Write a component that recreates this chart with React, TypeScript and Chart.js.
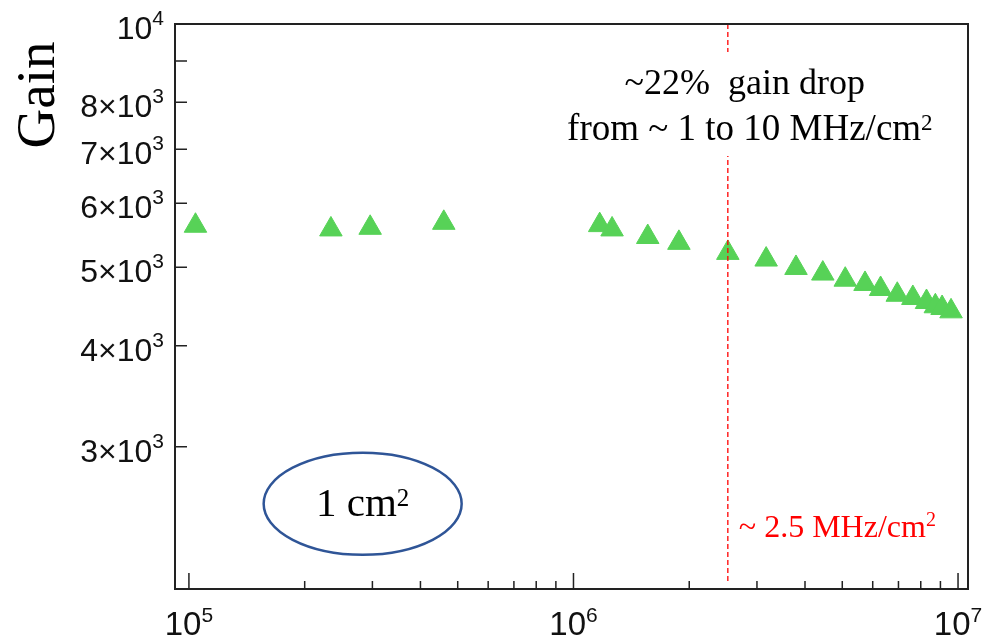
import React, { useEffect, useRef } from 'react';
import { Chart, registerables } from 'chart.js';

Chart.register(...registerables);

// ---- data ----
const frequencies = [
  1.04e5, 2.34e5, 2.96e5, 4.6e5, 1.17e6, 1.26e6, 1.56e6, 1.88e6, 2.52e6, 3.17e6,
  3.79e6, 4.45e6, 5.09e6, 5.73e6, 6.29e6, 6.95e6, 7.63e6, 8.28e6, 8.73e6, 9.09e6, 9.59e6,
];
const gains = [
  5629, 5570, 5596, 5676, 5639, 5570, 5451, 5361, 5210, 5112,
  4991, 4912, 4827, 4769, 4701, 4624, 4582, 4530, 4475, 4453, 4411,
];

const X_MIN = 92000;
const X_MAX = 1.0615e7;
const Y_MIN = 2000;
const Y_MAX = 10000;

const xMajorTicks = [1e5, 1e6, 1e7];
const xMajorLabels = [['10', '5'], ['10', '6'], ['10', '7']];
const xMinorMultipliers = [2, 3, 4, 5, 6, 7, 8, 9];
const xMinorDecades = [1e5, 1e6];

const yTicks = [3000, 4000, 5000, 6000, 7000, 8000, 9000, 10000];
const yTickLabels = [
  ['3×10', '3'], ['4×10', '3'], ['5×10', '3'], ['6×10', '3'],
  ['7×10', '3'], ['8×10', '3'], ['', ''], ['10', '4'],
];

const yTitle = 'Gain';
const markerFreq = 2.52e6;
const markerLabel = ['~ 2.5 MHz/cm', '2'];
const noteLine1 = '~22%  gain drop';
const noteLine2 = ['from ~ 1 to 10 MHz/cm', '2'];
const areaLabel = ['1 cm', '2'];
const areaCenter = { x: 2.83e5, y: 2550 };

const SANS = '"Liberation Sans", Arial, Helvetica, sans-serif';
const SERIF = '"Liberation Serif", "Times New Roman", Times, serif';

function drawSup(
  ctx: CanvasRenderingContext2D,
  base: string,
  sup: string,
  x: number,
  y: number,
  baseFont: string,
  supFont: string,
  raise: number,
  align: 'left' | 'center' | 'right',
) {
  ctx.font = baseFont;
  const bw = ctx.measureText(base).width;
  ctx.font = supFont;
  const sw = ctx.measureText(sup).width;
  const total = bw + sw;
  let start = x;
  if (align === 'center') start = x - total / 2;
  else if (align === 'right') start = x - total;
  ctx.textAlign = 'left';
  ctx.textBaseline = 'alphabetic';
  ctx.font = baseFont;
  ctx.fillText(base, start, y);
  ctx.font = supFont;
  ctx.fillText(sup, start + bw, y - raise);
  return total;
}

const decorPlugin = {
  id: 'decor',
  afterDatasetsDraw(chart: any) {
    const { ctx, chartArea: a, scales } = chart;
    const xs = scales.x;
    const ys = scales.y;
    ctx.save();

    // dashed marker line
    const lx = xs.getPixelForValue(markerFreq);
    ctx.strokeStyle = '#ff0000';
    ctx.lineWidth = 1.3;
    ctx.setLineDash([5, 3]);
    ctx.beginPath();
    ctx.moveTo(lx, a.top);
    ctx.lineTo(lx, a.bottom - 6);
    ctx.stroke();
    ctx.setLineDash([]);

    // annotation text box
    ctx.fillStyle = '#ffffff';
    ctx.fillRect(lx - 176, a.top + 28, 394, 104);
    ctx.fillStyle = '#000000';
    ctx.font = `36px ${SERIF}`;
    ctx.textAlign = 'center';
    ctx.textBaseline = 'alphabetic';
    ctx.fillText(noteLine1, lx + 17, a.top + 70);
    drawSup(ctx, noteLine2[0], noteLine2[1], lx + 22, a.top + 116, `37px ${SERIF}`, `23px ${SERIF}`, 10, 'center');

    // red marker label
    ctx.fillStyle = '#ff0000';
    drawSup(ctx, markerLabel[0], markerLabel[1], lx + 11, a.bottom - 52, `32px ${SERIF}`, `20px ${SERIF}`, 11, 'left');

    // ellipse with area label
    const ex = xs.getPixelForValue(areaCenter.x);
    const ey = ys.getPixelForValue(areaCenter.y);
    ctx.strokeStyle = '#2f5597';
    ctx.lineWidth = 2.5;
    ctx.beginPath();
    ctx.ellipse(ex, ey, 99, 51, 0, 0, Math.PI * 2);
    ctx.stroke();
    ctx.fillStyle = '#000000';
    drawSup(ctx, areaLabel[0], areaLabel[1], ex, ey + 12, `41px ${SERIF}`, `25px ${SERIF}`, 10, 'center');

    // frame
    ctx.strokeStyle = '#222222';
    ctx.lineWidth = 2;
    ctx.strokeRect(a.left, a.top, a.right - a.left, a.bottom - a.top);

    // x ticks
    ctx.lineWidth = 1.5;
    ctx.beginPath();
    xMajorTicks.forEach((v) => {
      const px = xs.getPixelForValue(v);
      ctx.moveTo(px, a.bottom);
      ctx.lineTo(px, a.bottom - 16);
    });
    xMinorDecades.forEach((d) => {
      xMinorMultipliers.forEach((m) => {
        const px = xs.getPixelForValue(d * m);
        ctx.moveTo(px, a.bottom);
        ctx.lineTo(px, a.bottom - 8);
      });
    });
    // y ticks
    yTicks.forEach((v) => {
      const py = ys.getPixelForValue(v);
      ctx.moveTo(a.left, py);
      ctx.lineTo(a.left + 12, py);
    });
    ctx.stroke();

    // x labels
    ctx.fillStyle = '#111111';
    xMajorTicks.forEach((v, i) => {
      const px = xs.getPixelForValue(v);
      drawSup(ctx, xMajorLabels[i][0], xMajorLabels[i][1], px, a.bottom + 46, `33px ${SANS}`, `21px ${SANS}`, 13, 'center');
    });
    // y labels
    yTicks.forEach((v, i) => {
      const [b, s] = yTickLabels[i];
      if (!b) return;
      const py = ys.getPixelForValue(v);
      drawSup(ctx, b, s, a.left - 11, py + 15, `32px ${SANS}`, `21px ${SANS}`, 14, 'right');
    });

    // y title
    ctx.save();
    ctx.translate(54, a.top + 71);
    ctx.rotate(-Math.PI / 2);
    ctx.fillStyle = '#000000';
    ctx.font = `55px ${SERIF}`;
    ctx.textAlign = 'center';
    ctx.textBaseline = 'alphabetic';
    ctx.fillText(yTitle, 0, 0);
    ctx.restore();

    ctx.restore();
  },
};

export default function App() {
  const ref = useRef<HTMLCanvasElement | null>(null);
  useEffect(() => {
    const canvas = ref.current;
    if (!canvas) return;
    const chart = new Chart(canvas, {
      type: 'scatter',
      data: {
        datasets: [
          {
            data: frequencies.map((f, i) => ({ x: f, y: gains[i] })),
            pointStyle: 'triangle',
            pointRadius: 13,
            pointHoverRadius: 13,
            backgroundColor: '#57d257',
            borderColor: '#57d257',
            borderWidth: 1,
            showLine: false,
          },
        ],
      },
      options: {
        animation: false,
        responsive: false,
        devicePixelRatio: 1,
        events: [],
        layout: { padding: { left: 175, right: 11, top: 24, bottom: 50 } },
        plugins: { legend: { display: false }, tooltip: { enabled: false } },
        scales: {
          x: { type: 'logarithmic', min: X_MIN, max: X_MAX, display: false },
          y: { type: 'logarithmic', min: Y_MIN, max: Y_MAX, display: false },
        },
      },
      plugins: [decorPlugin],
    } as any);
    return () => chart.destroy();
  }, []);
  return (
    <div style={{ position: 'fixed', left: 0, top: 0, width: 982, height: 639, background: '#ffffff' }}>
      <canvas ref={ref} width={982} height={639} style={{ display: 'block', width: 982, height: 639 }} />
    </div>
  );
}
